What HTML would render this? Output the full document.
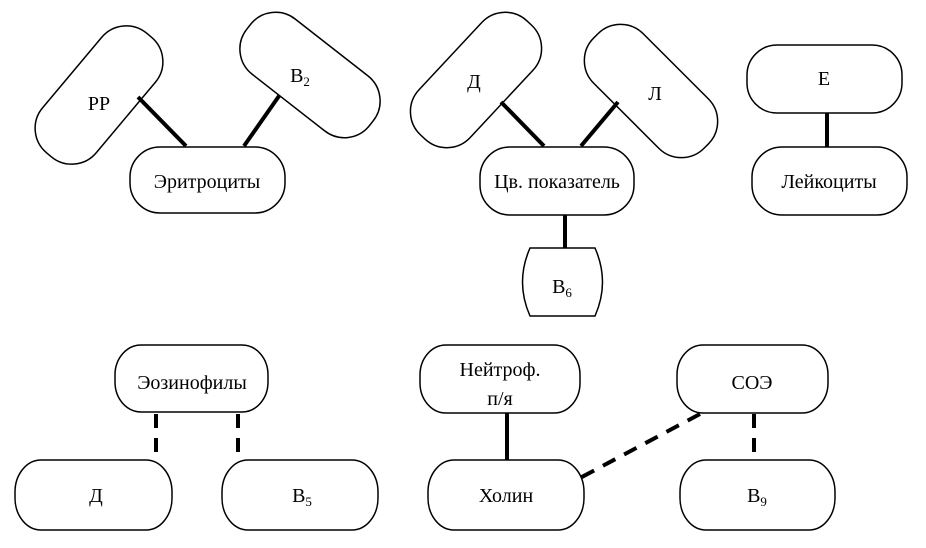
<!DOCTYPE html>
<html><head><meta charset="utf-8"><style>
html,body{margin:0;padding:0;background:#fff;}
svg text{font-family:"Liberation Serif",serif;font-size:20px;fill:#000;}
</style></head><body>
<svg width="926" height="543" viewBox="0 0 926 543" xmlns="http://www.w3.org/2000/svg">
<g fill="#fff" stroke="#000" stroke-width="1.5">
<rect x="21" y="60" width="156" height="70" rx="32" transform="rotate(-50 99 95)"/>
<rect x="232" y="40" width="156" height="70" rx="32" transform="rotate(38 310 75)"/>
<rect x="398" y="45" width="156" height="70" rx="32" transform="rotate(-47 476 80)"/>
<rect x="573" y="56" width="156" height="70" rx="32" transform="rotate(45 651 91)"/>
<rect x="130" y="147" width="155" height="66" rx="30"/>
<rect x="480" y="147" width="154" height="68" rx="30"/>
<path d="M530 248 H595 Q610 282 595 316 H530 Q515 282 530 248 Z"/>
<rect x="747" y="45" width="155" height="68" rx="30"/>
<rect x="752" y="147" width="155" height="68" rx="30"/>
<rect x="115" y="345" width="153" height="67" rx="26" ry="30"/>
<rect x="15" y="460" width="157" height="70" rx="26" ry="32"/>
<rect x="222" y="460" width="156" height="70" rx="26" ry="32"/>
<rect x="420" y="345" width="160" height="68" rx="26" ry="30"/>
<rect x="428" y="460" width="156" height="70" rx="26" ry="32"/>
<rect x="677" y="345" width="151" height="68" rx="26" ry="30"/>
<rect x="680" y="460" width="155" height="70" rx="26" ry="32"/>
</g>
<g stroke="#000" stroke-width="4">
<line x1="138" y1="97" x2="186" y2="146"/>
<line x1="279" y1="96" x2="244" y2="146"/>
<line x1="501" y1="102" x2="544" y2="146"/>
<line x1="618" y1="102" x2="581" y2="146"/>
<line x1="565" y1="215" x2="565" y2="248"/>
<line x1="827" y1="113" x2="827" y2="147"/>
<line x1="507" y1="413" x2="507" y2="460"/>
</g>
<g stroke="#000" stroke-width="4" stroke-dasharray="14,10">
<line x1="156" y1="414" x2="156" y2="460"/>
<line x1="238" y1="414" x2="238" y2="460"/>
<line x1="754" y1="414" x2="754" y2="460"/>
<line x1="700" y1="414" x2="580" y2="478"/>
</g>
<g text-anchor="middle">
<text x="99" y="110">PP</text>
<text x="300" y="82">B<tspan font-size="13" dy="4">2</tspan></text>
<text x="207" y="188">Эритроциты</text>
<text x="474" y="88">Д</text>
<text x="655" y="100">Л</text>
<text x="557" y="188">Цв. показатель</text>
<text x="562" y="293">B<tspan font-size="13" dy="4">6</tspan></text>
<text x="824" y="85">E</text>
<text x="829" y="188">Лейкоциты</text>
<text x="192" y="389">Эозинофилы</text>
<text x="96" y="502">Д</text>
<text x="302" y="502">B<tspan font-size="13" dy="4">5</tspan></text>
<text x="500" y="376">Нейтроф.</text>
<text x="500" y="405">п/я</text>
<text x="506" y="502">Холин</text>
<text x="752" y="389">СОЭ</text>
<text x="757" y="502">B<tspan font-size="13" dy="4">9</tspan></text>
</g>
</svg>
</body></html>
